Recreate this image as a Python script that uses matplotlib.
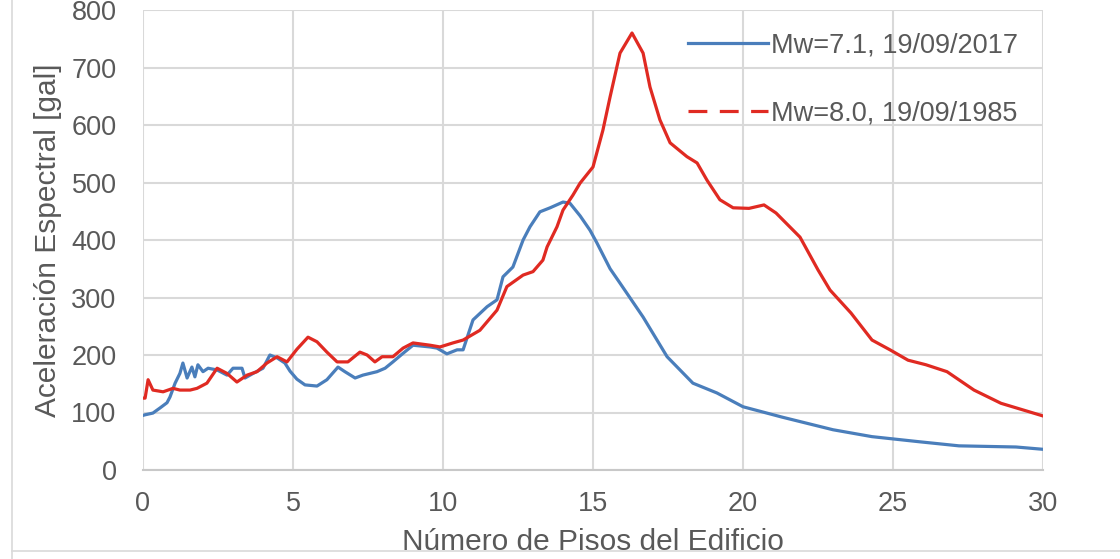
import matplotlib
matplotlib.use('Agg')
import matplotlib.pyplot as plt
from matplotlib.lines import Line2D

plt.rcParams['font.family'] = ['Liberation Sans', 'DejaVu Sans']

# piso del edificio vs aceleracion espectral (gal)
x_2017 = [0.0, 0.07, 0.33, 0.57, 0.8, 0.9, 1.07, 1.23, 1.33, 1.47, 1.63, 1.73, 1.83, 2.0, 2.17,
          2.47, 2.8, 3.0, 3.3, 3.4, 3.67, 4.0, 4.23, 4.47, 4.73, 4.9, 5.13, 5.4, 5.8, 6.13, 6.5,
          6.73, 7.07, 7.33, 7.8, 8.07, 8.33, 8.67, 9.0, 9.57, 9.8, 10.13, 10.47, 10.67, 11.0,
          11.47, 11.8, 12.0, 12.33, 12.67, 12.9, 13.23, 13.57, 14.0, 14.23, 14.57, 14.9, 15.13,
          15.57, 15.9, 16.67, 17.47, 18.33, 19.13, 20.0, 21.3, 23.0, 24.3, 25.9, 27.2, 29.1, 30.0]
y_2017 = [95, 96, 99, 108, 117, 127, 151, 168, 186, 160, 179, 162, 183, 171, 177,
          174, 165, 177, 177, 160, 168, 177, 200, 195, 186, 172, 158, 148, 146, 157, 179,
          171, 160, 165, 171, 177, 188, 203, 217, 214, 212, 202, 209, 209, 261,
          284, 296, 336, 353, 400, 423, 449, 456, 466, 464, 442, 417, 395,
          350, 325, 266, 197, 151, 134, 110, 92, 70, 58, 49, 42, 40, 36]

x_1985 = [0.0, 0.07, 0.17, 0.33, 0.67, 1.0, 1.23, 1.57, 1.8, 2.13, 2.47, 2.8, 3.13, 3.47, 3.8,
          4.13, 4.47, 4.8, 5.13, 5.5, 5.8, 6.13, 6.47, 6.83, 7.23, 7.47, 7.73, 7.97, 8.33, 8.67,
          9.0, 9.57, 9.9, 10.33, 10.67, 11.23, 11.8, 12.13, 12.67, 13.0, 13.33, 13.47, 13.8,
          14.0, 14.33, 14.57, 15.0, 15.33, 15.57, 15.9, 16.3, 16.67, 16.9, 17.23, 17.57, 18.13,
          18.47, 18.8, 19.23, 19.67, 20.2, 20.7, 21.1, 21.9, 22.5, 22.9, 23.6, 24.3, 24.9, 25.5,
          26.1, 26.8, 27.7, 28.6, 30.0]
y_1985 = [125, 125, 157, 139, 136, 142, 139, 139, 142, 151, 177, 168, 153, 165, 171,
          186, 197, 188, 210, 231, 223, 205, 188, 188, 205, 200, 188, 197, 197, 212,
          221, 217, 214, 221, 226, 243, 278, 319, 339, 345, 365, 388, 423,
          452, 478, 499, 527, 591, 649, 725, 760, 725, 666, 609, 569, 545,
          534, 504, 470, 456, 455, 461, 447, 405, 348, 313, 273, 226, 209, 191,
          183, 171, 139, 116, 94]

labels = ['Mw=7.1, 19/09/2017', 'Mw=8.0, 19/09/1985']
blue = '#4a7ebb'
red = '#e02a22'
gray_txt = '#595959'

fig = plt.figure(figsize=(11.2, 5.59), dpi=100)
ax = fig.add_axes([143/1120, 89/559, 900/1120, 460/559])

ax.plot(x_2017, y_2017, color=blue, lw=2.3, zorder=3)
ax.plot(x_1985, y_1985, color=red, lw=2.3, zorder=4)

ax.set_xlim(0, 30)
ax.set_ylim(0, 800)
ax.set_xticks(range(0, 31, 5))
ax.set_yticks(range(0, 801, 100))
ax.grid(True, color='#d9d9d9', lw=1.5)
ax.set_axisbelow(True)
for s in ['top', 'right', 'left']:
    ax.spines[s].set_visible(False)
ax.spines['bottom'].set_color('#c8c8c8')
ax.spines['bottom'].set_linewidth(1.5)
ax.tick_params(length=0, labelsize=19.5, labelcolor=gray_txt)
ax.tick_params(axis='y', pad=19)
ax.tick_params(axis='x', pad=15)

ax.set_xlabel('Número de Pisos del Edificio', fontsize=21.5, color=gray_txt, labelpad=8)
ax.set_ylabel('Aceleración Espectral [gal]', fontsize=21.5, color=gray_txt, labelpad=7)

handles = [Line2D([], [], color=blue, lw=2.3),
           Line2D([], [], color=red, lw=2.3, linestyle=(0, (5.9, 3.9)))]
ax.legend(handles, labels, loc='upper left', bbox_to_anchor=(0.606, 0.952), frameon=False,
          fontsize=19.5, labelcolor=gray_txt, handlelength=2.95, handletextpad=0.1,
          labelspacing=1.55, borderpad=0, borderaxespad=0)

# marco exterior del grafico
fig.add_artist(Line2D([12/1120, 12/1120], [0, 1], color='#d9d9d9', lw=1.2))
fig.add_artist(Line2D([12/1120, 1], [8/559, 8/559], color='#d9d9d9', lw=1.2))

fig.savefig('out.png', dpi=100)
